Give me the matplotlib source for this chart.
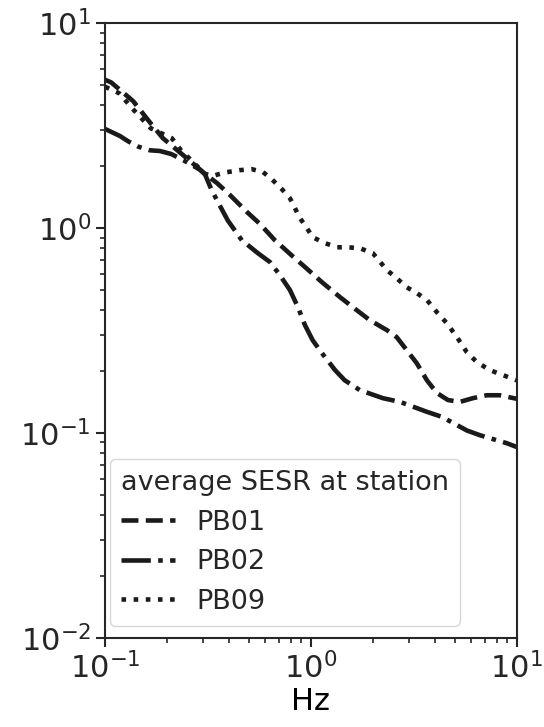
import matplotlib
matplotlib.use('Agg')
import matplotlib.pyplot as plt

# frequency (Hz) and average spectral ratio
freq_pb01 = [0.1, 0.107, 0.137, 0.165, 0.191, 0.253, 0.306, 0.350, 0.405, 0.489, 0.565, 0.668,
             0.805, 0.953, 1.127, 1.38, 1.67, 1.93, 2.34, 2.61, 2.92, 3.27, 3.66, 4.09,
             4.63, 5.29, 6.11, 7.15, 8.26, 10.0]
sesr_pb01 = [5.3, 5.15, 4.17, 3.29, 2.75, 2.17, 1.84, 1.66, 1.45, 1.20, 1.05, 0.874,
             0.738, 0.636, 0.547, 0.462, 0.398, 0.356, 0.318, 0.294, 0.254, 0.219, 0.181, 0.157,
             0.145, 0.142, 0.148, 0.153, 0.153, 0.147]

freq_pb02 = [0.1, 0.118, 0.13, 0.145, 0.165, 0.185, 0.21, 0.25, 0.289, 0.306, 0.330, 0.361,
             0.395, 0.462, 0.553, 0.633, 0.707, 0.791, 0.865, 0.935, 1.02, 1.13, 1.31, 1.46,
             1.73, 2.24, 2.71, 3.66, 4.33, 5.72, 6.61, 8.93, 10.0]
sesr_pb02 = [3.05, 2.82, 2.65, 2.5, 2.4, 2.38, 2.3, 2.1, 1.93, 1.83, 1.53, 1.29,
             1.09, 0.873, 0.755, 0.683, 0.590, 0.499, 0.412, 0.337, 0.284, 0.246, 0.203, 0.181,
             0.162, 0.148, 0.142, 0.127, 0.120, 0.103, 0.0977, 0.0893, 0.0855]

freq_pb09 = [0.1, 0.117, 0.138, 0.167, 0.211, 0.234, 0.306, 0.334, 0.383, 0.452, 0.517, 0.585,
             0.647, 0.723, 0.791, 0.885, 0.957, 1.02, 1.17, 1.34, 1.51, 1.73, 2.0, 2.34,
             2.61, 2.92, 3.27, 3.66, 4.09, 4.57, 5.12, 5.72, 6.40, 7.39, 8.55, 10.0]
sesr_pb09 = [4.9, 4.56, 3.77, 3.07, 2.75, 2.40, 1.84, 1.80, 1.87, 1.92, 1.94, 1.88,
             1.73, 1.55, 1.40, 1.12, 1.0, 0.904, 0.845, 0.807, 0.807, 0.798, 0.755, 0.624,
             0.570, 0.515, 0.482, 0.446, 0.389, 0.344, 0.294, 0.248, 0.222, 0.203, 0.192, 0.181]

stations = ['PB01', 'PB02', 'PB09']
styles = ['--', '-.', ':']

ink = '#262626'
plt.rcParams['text.color'] = ink
plt.rcParams['axes.edgecolor'] = ink
plt.rcParams['xtick.color'] = ink
plt.rcParams['ytick.color'] = ink

fig = plt.figure(figsize=(5.44, 7.27), dpi=100)
ax = fig.add_axes([0.193, 0.1224, 0.757, 0.8456])

series = [(freq_pb01, sesr_pb01), (freq_pb02, sesr_pb02), (freq_pb09, sesr_pb09)]
for (f, s), name, ls in zip(series, stations, styles):
    ax.plot(f, s, ls, color='#1a1a1a', lw=3.3, label=name)

ax.set_xscale('log')
ax.set_yscale('log')
ax.set_xlim(0.1, 10)
ax.set_ylim(0.01, 10)
ax.set_xlabel('Hz', fontsize=22, labelpad=2)

for sp in ax.spines.values():
    sp.set_linewidth(1.5)
ax.tick_params(which='major', labelsize=22, length=6.5, width=1.5)
ax.tick_params(which='minor', length=3.6, width=1.2)

leg = ax.legend(title='average SESR at station', loc='lower left',
                bbox_to_anchor=(0.012, 0.02), borderaxespad=0,
                fontsize=19.5, title_fontsize=19.5, handlelength=2.0,
                handletextpad=0.8, alignment='left', labelspacing=0.5)

fig.savefig('out.png', dpi=100)
